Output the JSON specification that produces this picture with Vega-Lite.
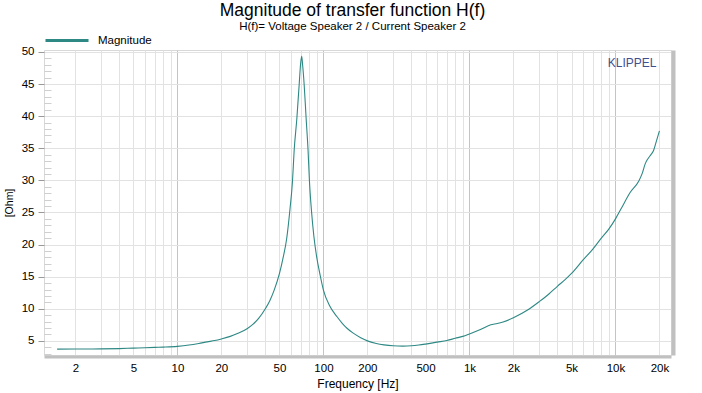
{
  "$schema": "https://vega.github.io/schema/vega-lite/v6.json",
  "width": 627,
  "height": 305,
  "autosize": {"type": "none"},
  "padding": {"left": 44, "top": 50, "right": 31, "bottom": 38},
  "background": "white",
  "config": {"view": {"stroke": "#d8d8d8"}, "font": "Liberation Sans"},
  "title": {
    "text": "Magnitude of transfer function H(f)",
    "subtitle": "H(f)= Voltage Speaker 2 / Current Speaker 2",
    "fontSize": 17.5,
    "fontWeight": "normal",
    "color": "#000000",
    "subtitleFontSize": 11.5,
    "subtitleColor": "#000000",
    "subtitlePadding": 2,
    "anchor": "middle",
    "frame": "group",
    "offset": -15,
    "dx": -5
  },
  "datasets": {
    "curve": [
      {"f": 1.5, "z": 3.72}, {"f": 2, "z": 3.73}, {"f": 2.5, "z": 3.74}, {"f": 3, "z": 3.75},
      {"f": 4, "z": 3.8}, {"f": 5, "z": 3.87}, {"f": 6, "z": 3.92}, {"f": 7, "z": 3.98},
      {"f": 8, "z": 4.03}, {"f": 10, "z": 4.15}, {"f": 12, "z": 4.35}, {"f": 14, "z": 4.6},
      {"f": 16, "z": 4.85}, {"f": 18, "z": 5.05}, {"f": 20, "z": 5.3}, {"f": 23, "z": 5.7},
      {"f": 26, "z": 6.2}, {"f": 30, "z": 6.9}, {"f": 33, "z": 7.6}, {"f": 36, "z": 8.5},
      {"f": 40, "z": 10.0}, {"f": 43, "z": 11.3}, {"f": 46, "z": 12.9}, {"f": 50, "z": 15.5},
      {"f": 53, "z": 18.0}, {"f": 56, "z": 20.9}, {"f": 59, "z": 25.5}, {"f": 61.4, "z": 29.9},
      {"f": 63, "z": 34.6}, {"f": 65.8, "z": 39.7}, {"f": 68.2, "z": 44.9}, {"f": 70, "z": 48.5},
      {"f": 71, "z": 49.3}, {"f": 72, "z": 48.0}, {"f": 73.8, "z": 44.9}, {"f": 76.1, "z": 39.7},
      {"f": 78.5, "z": 34.6}, {"f": 80.2, "z": 29.9}, {"f": 83, "z": 25.0}, {"f": 86, "z": 21.3},
      {"f": 90, "z": 18.0}, {"f": 95, "z": 15.2}, {"f": 100, "z": 12.9}, {"f": 110, "z": 10.5},
      {"f": 124, "z": 8.76}, {"f": 135, "z": 7.7}, {"f": 145, "z": 6.97}, {"f": 160, "z": 6.2},
      {"f": 180, "z": 5.5}, {"f": 200, "z": 5.0}, {"f": 230, "z": 4.6}, {"f": 260, "z": 4.38},
      {"f": 300, "z": 4.23}, {"f": 350, "z": 4.18}, {"f": 400, "z": 4.23}, {"f": 450, "z": 4.35},
      {"f": 500, "z": 4.5}, {"f": 600, "z": 4.8}, {"f": 700, "z": 5.05}, {"f": 800, "z": 5.4},
      {"f": 900, "z": 5.7}, {"f": 1000, "z": 6.08}, {"f": 1200, "z": 6.8}, {"f": 1400, "z": 7.5},
      {"f": 1550, "z": 7.7}, {"f": 1700, "z": 7.95}, {"f": 2000, "z": 8.6}, {"f": 2500, "z": 9.8},
      {"f": 3000, "z": 11.1}, {"f": 3500, "z": 12.3}, {"f": 4000, "z": 13.5}, {"f": 4500, "z": 14.5},
      {"f": 5000, "z": 15.5}, {"f": 6000, "z": 17.6}, {"f": 7000, "z": 19.3}, {"f": 8000, "z": 21.0},
      {"f": 9000, "z": 22.4}, {"f": 10000, "z": 24.0}, {"f": 11000, "z": 25.7}, {"f": 12600, "z": 28.1},
      {"f": 14450, "z": 29.9}, {"f": 15200, "z": 31.0}, {"f": 16000, "z": 32.6}, {"f": 16600, "z": 33.3},
      {"f": 17500, "z": 34.0}, {"f": 18200, "z": 34.6}, {"f": 19000, "z": 36.0}, {"f": 20000, "z": 37.7}
    ],
    "brand": [{"f": 13000, "z": 48.3, "t": "KLIPPEL"}]
  },
  "encoding": {
    "x": {
      "field": "f",
      "type": "quantitative",
      "scale": {"type": "log", "domain": [1.22, 24000], "nice": false},
      "axis": {
        "title": "Frequency [Hz]",
        "titleFontSize": 12,
        "titleFontWeight": "normal",
        "titleColor": "#000000",
        "titlePadding": 4,
        "values": [2,3,4,5,6,7,8,9,10,20,30,40,50,60,70,80,90,100,200,300,400,500,600,700,800,900,1000,2000,3000,4000,5000,6000,7000,8000,9000,10000,20000],
        "labelExpr": "indexof([2,5,10,20,50,100,200,500],datum.value)>=0 ? ''+datum.value : (indexof([1000,2000,5000,10000,20000],datum.value)>=0 ? (datum.value/1000)+'k' : '')",
        "labelFontSize": 11.5,
        "labelColor": "#000000",
        "labelPadding": 6,
        "labelFlush": false,
        "labelOverlap": false,
        "ticks": false,
        "domainColor": "#c0c0c0",
        "domainWidth": 3,
        "offset": 1.5,
        "grid": true,
        "gridColor": {"condition": {"test": "indexof([10,100,1000,10000],datum.value)>=0", "value": "#c4c4c4"}, "value": "#e2e2e2"}
      }
    }
  },
  "layer": [
    {
      "data": {"name": "curve"},
      "mark": {"type": "line", "strokeWidth": 1.1, "interpolate": "monotone"},
      "encoding": {
        "y": {
          "field": "z",
          "type": "quantitative",
          "scale": {"domain": [2.8, 50.3], "nice": false, "zero": false},
          "axis": {
            "orient": "left",
            "title": "[Ohm]",
            "titleFontSize": 10.5,
            "titleFontWeight": "normal",
            "titleColor": "#000000",
            "titlePadding": 7,
            "values": [3,4,5,6,7,8,9,10,11,12,13,14,15,16,17,18,19,20,21,22,23,24,25,26,27,28,29,30,31,32,33,34,35,36,37,38,39,40,41,42,43,44,45,46,47,48,49,50],
            "labelExpr": "datum.value % 5 == 0 ? ''+datum.value : ''",
            "labelFontSize": 11.5,
            "labelColor": "#000000",
            "labelPadding": 4,
            "labelOverlap": false,
            "labelFlush": false,
            "domain": false,
            "tickSize": {"condition": {"test": "datum.value % 5 == 0", "value": 6}, "value": -7},
            "tickColor": {"condition": {"test": "datum.value % 5 == 0", "value": "#999999"}, "value": "#cfcfcf"},
            "grid": true,
            "gridColor": "#e2e2e2",
            "gridOpacity": {"condition": {"test": "datum.value % 5 == 0", "value": 1}, "value": 0}
          }
        },
        "color": {
          "datum": "Magnitude",
          "scale": {"range": ["#2e8884"]},
          "legend": {
            "orient": "none",
            "legendX": 0,
            "legendY": -32.5,
            "title": null,
            "padding": 0,
            "symbolType": "stroke",
            "symbolSize": 1849,
            "symbolStrokeWidth": 3,
            "symbolStrokeColor": "#1a7f7a",
            "labelFontSize": 11.5,
            "labelColor": "#000000",
            "labelOffset": 8
          }
        }
      }
    },
    {
      "data": {"name": "curve"},
      "mark": {"type": "line", "strokeOpacity": 0},
      "encoding": {
        "y": {
          "field": "z",
          "type": "quantitative",
          "axis": {
            "orient": "right",
            "title": null,
            "labels": false,
            "ticks": false,
            "grid": false,
            "domain": true,
            "domainColor": "#c0c0c0",
            "domainWidth": 4,
            "offset": 2
          }
        }
      }
    },
    {
      "data": {"name": "brand"},
      "mark": {"type": "text", "fontSize": 12, "color": "#40508f", "font": "Liberation Sans"},
      "encoding": {
        "y": {"field": "z", "type": "quantitative", "axis": null},
        "text": {"field": "t"}
      }
    }
  ],
  "resolve": {"axis": {"y": "independent"}}
}
